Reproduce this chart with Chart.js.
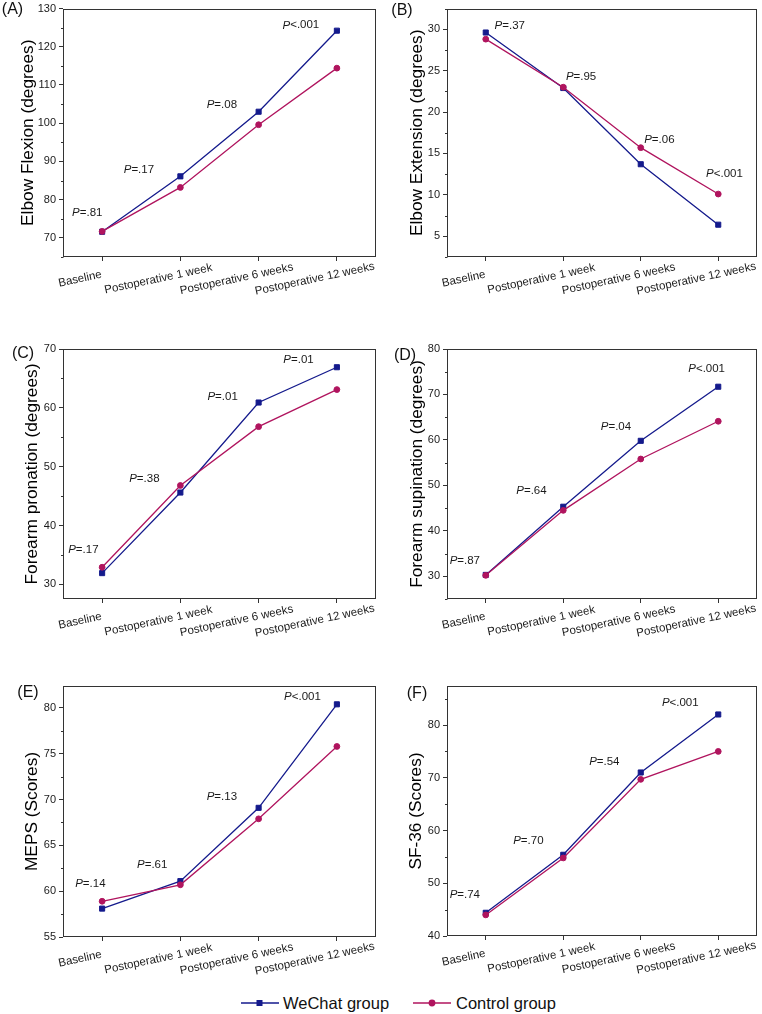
<!DOCTYPE html>
<html lang="en">
<head>
<meta charset="utf-8">
<script src="https://cdn.jsdelivr.net/npm/chart.js/dist/chart.umd.min.js"></script>
<style>
    body { margin: 0; background: #fff; }
    #page { position: relative; width: 762px; height: 1014px; font-family: "Liberation Sans", Arial, sans-serif; }
    #page canvas { position: absolute; }
    .leg { position: absolute; top: 993px; height: 20px; font-size: 16.5px; line-height: 20px; color: #111; white-space: nowrap; }
    .leg svg { position: absolute; top: 0; }
</style>
</head>
<body>
<div id="page">
    <div class="leg" style="left:241px"><svg width="38" height="20"><line x1="0" y1="10" x2="38" y2="10" stroke="#141a8c" stroke-width="1.4"/><rect x="15.5" y="7" width="6" height="6" fill="#141a8c"/></svg><span style="position:absolute;left:42px">WeChat group</span></div>
    <div class="leg" style="left:413px"><svg width="38" height="20"><line x1="0" y1="10" x2="38" y2="10" stroke="#b0145e" stroke-width="1.4"/><circle cx="19" cy="10" r="3.4" fill="#b0145e"/></svg><span style="position:absolute;left:43px">Control group</span></div>
</div>

<script>
    const categories = ['Baseline', 'Postoperative 1 week', 'Postoperative 6 weeks', 'Postoperative 12 weeks'];

    // (A) elbow flexion
    const flexionWeChat = [71.6, 86.1, 103.0, 124.2];
    const flexionControl = [71.7, 83.2, 99.6, 114.4];
    const flexionP = ['=.81', '=.17', '=.08', '<.001'];
    const flexionTicks = [70, 80, 90, 100, 110, 120, 130];

    // (B) elbow extension
    const extensionWeChat = [29.6, 22.9, 13.7, 6.4];
    const extensionControl = [28.8, 23.0, 15.7, 10.1];
    const extensionP = ['=.37', '=.95', '=.06', '<.001'];
    const extensionTicks = [5, 10, 15, 20, 25, 30];

    // (C) forearm pronation
    const pronationWeChat = [31.9, 45.6, 60.9, 66.9];
    const pronationControl = [32.9, 46.8, 56.8, 63.1];
    const pronationP = ['=.17', '=.38', '=.01', '=.01'];
    const pronationTicks = [30, 40, 50, 60, 70];

    // (D) forearm supination
    const supinationWeChat = [30.3, 45.3, 59.8, 71.7];
    const supinationControl = [30.2, 44.5, 55.8, 64.1];
    const supinationP = ['=.87', '=.64', '=.04', '<.001'];
    const supinationTicks = [30, 40, 50, 60, 70, 80];

    // (E) MEPS
    const mepsWeChat = [58.1, 61.1, 69.1, 80.4];
    const mepsControl = [58.9, 60.7, 67.9, 75.8];
    const mepsP = ['=.14', '=.61', '=.13', '<.001'];
    const mepsTicks = [55, 60, 65, 70, 75, 80];

    // (F) SF-36
    const sfWeChat = [44.4, 55.4, 71.0, 82.0];
    const sfControl = [44.0, 54.8, 69.7, 75.0];
    const sfP = ['=.74', '=.70', '=.54', '<.001'];
    const sfTicks = [40, 50, 60, 70, 80];

    const navy = '#141a8c';
    const magenta = '#b0145e';
    const axisColor = '#333';
    const textColor = '#1a1a1a';
    const fontFamily = '"Liberation Sans", Arial, sans-serif';
    const labelAngle = -12 * Math.PI / 180;

    // layout of each panel (page pixels); pPos = [category index, y value] anchor of the P label
    const panels = [
        {letter: '(A)', title: 'Elbow Flexion (degrees)', wechat: flexionWeChat, control: flexionControl, pvals: flexionP,
         ticks: flexionTicks, min: 65, max: 130, minor: 5,
         box: {x: 0, y: 0, w: 381, h: 320}, plot: {l: 63, t: 6, r: 377, b: 257}, letterPos: [12.5, 10], titleGap: 35,
         pPos: [[-0.19, 76.5], [0.47, 87.9], [1.53, 104.7], [2.54, 125.6]]},
        {letter: '(B)', title: 'Elbow Extension (degrees)', wechat: extensionWeChat, control: extensionControl, pvals: extensionP,
         ticks: extensionTicks, min: 2.5, max: 32.5, minor: 2.5,
         box: {x: 381, y: 0, w: 381, h: 320}, plot: {l: 447, t: 6, r: 760, b: 257}, letterPos: [402, 11], titleGap: 30,
         pPos: [[0.31, 30.4], [1.23, 24.3], [2.24, 16.7], [3.08, 12.5]]},
        {letter: '(C)', title: 'Forearm pronation (degrees)', wechat: pronationWeChat, control: pronationControl, pvals: pronationP,
         ticks: pronationTicks, min: 27.5, max: 70, minor: 5,
         box: {x: 0, y: 320, w: 381, h: 330}, plot: {l: 63, t: 349, r: 377, b: 599}, letterPos: [23, 354], titleGap: 30.5,
         pPos: [[-0.24, 35.9], [0.54, 48.0], [1.54, 61.9], [2.51, 68.1]]},
        {letter: '(D)', title: 'Forearm supination (degrees)', wechat: supinationWeChat, control: supinationControl, pvals: supinationP,
         ticks: supinationTicks, min: 25, max: 80, minor: 5,
         box: {x: 381, y: 320, w: 381, h: 330}, plot: {l: 447, t: 349, r: 760, b: 599}, letterPos: [405, 356], titleGap: 30,
         pPos: [[-0.27, 33.5], [0.59, 48.9], [1.68, 62.9], [2.85, 75.6]]},
        {letter: '(E)', title: 'MEPS (Scores)', wechat: mepsWeChat, control: mepsControl, pvals: mepsP,
         ticks: mepsTicks, min: 55, max: 82.4, minor: 2.5,
         box: {x: 0, y: 650, w: 381, h: 330}, plot: {l: 63, t: 686, r: 377, b: 937}, letterPos: [28, 693], titleGap: 31,
         pPos: [[-0.15, 60.8], [0.64, 62.9], [1.53, 70.3], [2.56, 81.2]]},
        {letter: '(F)', title: 'SF-36 (Scores)', wechat: sfWeChat, control: sfControl, pvals: sfP,
         ticks: sfTicks, min: 40, max: 87.4, minor: 5,
         box: {x: 381, y: 650, w: 381, h: 330}, plot: {l: 447, t: 686, r: 760, b: 936}, letterPos: [417, 694], titleGap: 31,
         pPos: [[-0.27, 47.8], [0.55, 58.0], [1.53, 73.0], [2.51, 84.2]]}
    ];

    const panelPlugin = {
        id: 'panelDecor',
        afterDraw(chart, args, opts) {
            const p = opts.panel;
            const {ctx, chartArea: a} = chart;
            const x = chart.scales.x;
            const y = chart.scales.y;
            ctx.save();

            // frame round the plot
            ctx.strokeStyle = axisColor;
            ctx.lineWidth = 1;
            const l = Math.round(a.left) + 0.5, t = Math.round(a.top) + 0.5;
            const r = Math.round(a.right) - 0.5, b = Math.round(a.bottom) - 0.5;
            ctx.strokeRect(l, t, r - l, b - t);

            // minor ticks on y
            for (let v = p.ticks[0] - p.minor; v <= p.max + 1e-6; v += p.minor) {
                if (v < p.min - 1e-6) continue;
                if (p.ticks.some(function(m) { return Math.abs(m - v) < 1e-6; })) continue;
                const py = Math.round(y.getPixelForValue(v)) + 0.5;
                ctx.beginPath();
                ctx.moveTo(l - 2.5, py);
                ctx.lineTo(l, py);
                ctx.stroke();
            }

            // rotated category labels
            ctx.fillStyle = textColor;
            ctx.font = '11.5px ' + fontFamily;
            ctx.textAlign = 'center';
            ctx.textBaseline = 'middle';
            categories.forEach(function(label, i) {
                ctx.save();
                ctx.translate(x.getPixelForValue(i) - 22, a.bottom + 22);
                ctx.rotate(labelAngle);
                ctx.fillText(label, 0, 0);
                ctx.restore();
            });

            // P value labels
            p.pvals.forEach(function(txt, i) {
                const cx = x.getPixelForValue(p.pPos[i][0]);
                const cy = y.getPixelForValue(p.pPos[i][1]);
                ctx.font = 'italic 11.5px ' + fontFamily;
                const wP = ctx.measureText('P').width;
                ctx.font = '11.5px ' + fontFamily;
                const wR = ctx.measureText(txt).width;
                const x0 = cx - (wP + wR) / 2;
                ctx.textAlign = 'left';
                ctx.font = 'italic 11.5px ' + fontFamily;
                ctx.fillText('P', x0, cy);
                ctx.font = '11.5px ' + fontFamily;
                ctx.fillText(txt, x0 + wP, cy);
            });

            // panel letter
            ctx.font = '16px ' + fontFamily;
            ctx.textAlign = 'center';
            ctx.fillStyle = '#111';
            ctx.fillText(p.letter, p.letterPos[0] - p.box.x, p.letterPos[1] - p.box.y);
            ctx.restore();
        }
    };

    const page = document.getElementById('page');

    panels.forEach(function(p) {
        const canvas = document.createElement('canvas');
        canvas.width = p.box.w;
        canvas.height = p.box.h;
        canvas.style.left = p.box.x + 'px';
        canvas.style.top = p.box.y + 'px';
        canvas.style.width = p.box.w + 'px';
        canvas.style.height = p.box.h + 'px';
        page.appendChild(canvas);

        const yWidth = p.plot.l - p.box.x;
        const xHeight = p.box.y + p.box.h - p.plot.b;
        const titleSize = 17.3;

        new Chart(canvas, {
            type: 'line',
            data: {
                labels: categories,
                datasets: [
                    {label: 'WeChat group', data: p.wechat, borderColor: navy, backgroundColor: navy,
                     pointStyle: 'rect', pointRadius: 3.6, pointBorderWidth: 1, borderWidth: 1.3, order: 2},
                    {label: 'Control group', data: p.control, borderColor: magenta, backgroundColor: magenta,
                     pointStyle: 'circle', pointRadius: 2.9, pointBorderWidth: 1, borderWidth: 1.3, order: 1}
                ]
            },
            options: {
                responsive: false,
                animation: false,
                events: [],
                layout: {padding: {left: 0, top: p.plot.t - p.box.y, right: p.box.x + p.box.w - p.plot.r, bottom: 0}},
                plugins: {legend: {display: false}, tooltip: {enabled: false}, panelDecor: {panel: p}},
                scales: {
                    x: {
                        type: 'category',
                        offset: true,
                        grid: {drawOnChartArea: false, tickLength: 4, color: axisColor},
                        border: {display: false},
                        ticks: {display: false},
                        afterFit: function(scale) { scale.height = xHeight; }
                    },
                    y: {
                        type: 'linear',
                        min: p.min,
                        max: p.max,
                        afterBuildTicks: function(scale) {
                            scale.ticks = p.ticks.map(function(v) { return {value: v}; });
                        },
                        grid: {drawOnChartArea: false, tickLength: 4, color: axisColor},
                        border: {display: false},
                        ticks: {autoSkip: false, padding: 3, color: textColor,
                                font: {family: fontFamily, size: 11, lineHeight: 1},
                                callback: function(v) { return String(v); }},
                        title: {display: true, text: p.title, color: '#000',
                                font: {family: fontFamily, size: titleSize, lineHeight: 1},
                                padding: {top: yWidth - p.titleGap - titleSize / 2, bottom: 0}},
                        afterFit: function(scale) { scale.width = yWidth; }
                    }
                }
            },
            plugins: [panelPlugin]
        });
    });
</script>
</body>
</html>
